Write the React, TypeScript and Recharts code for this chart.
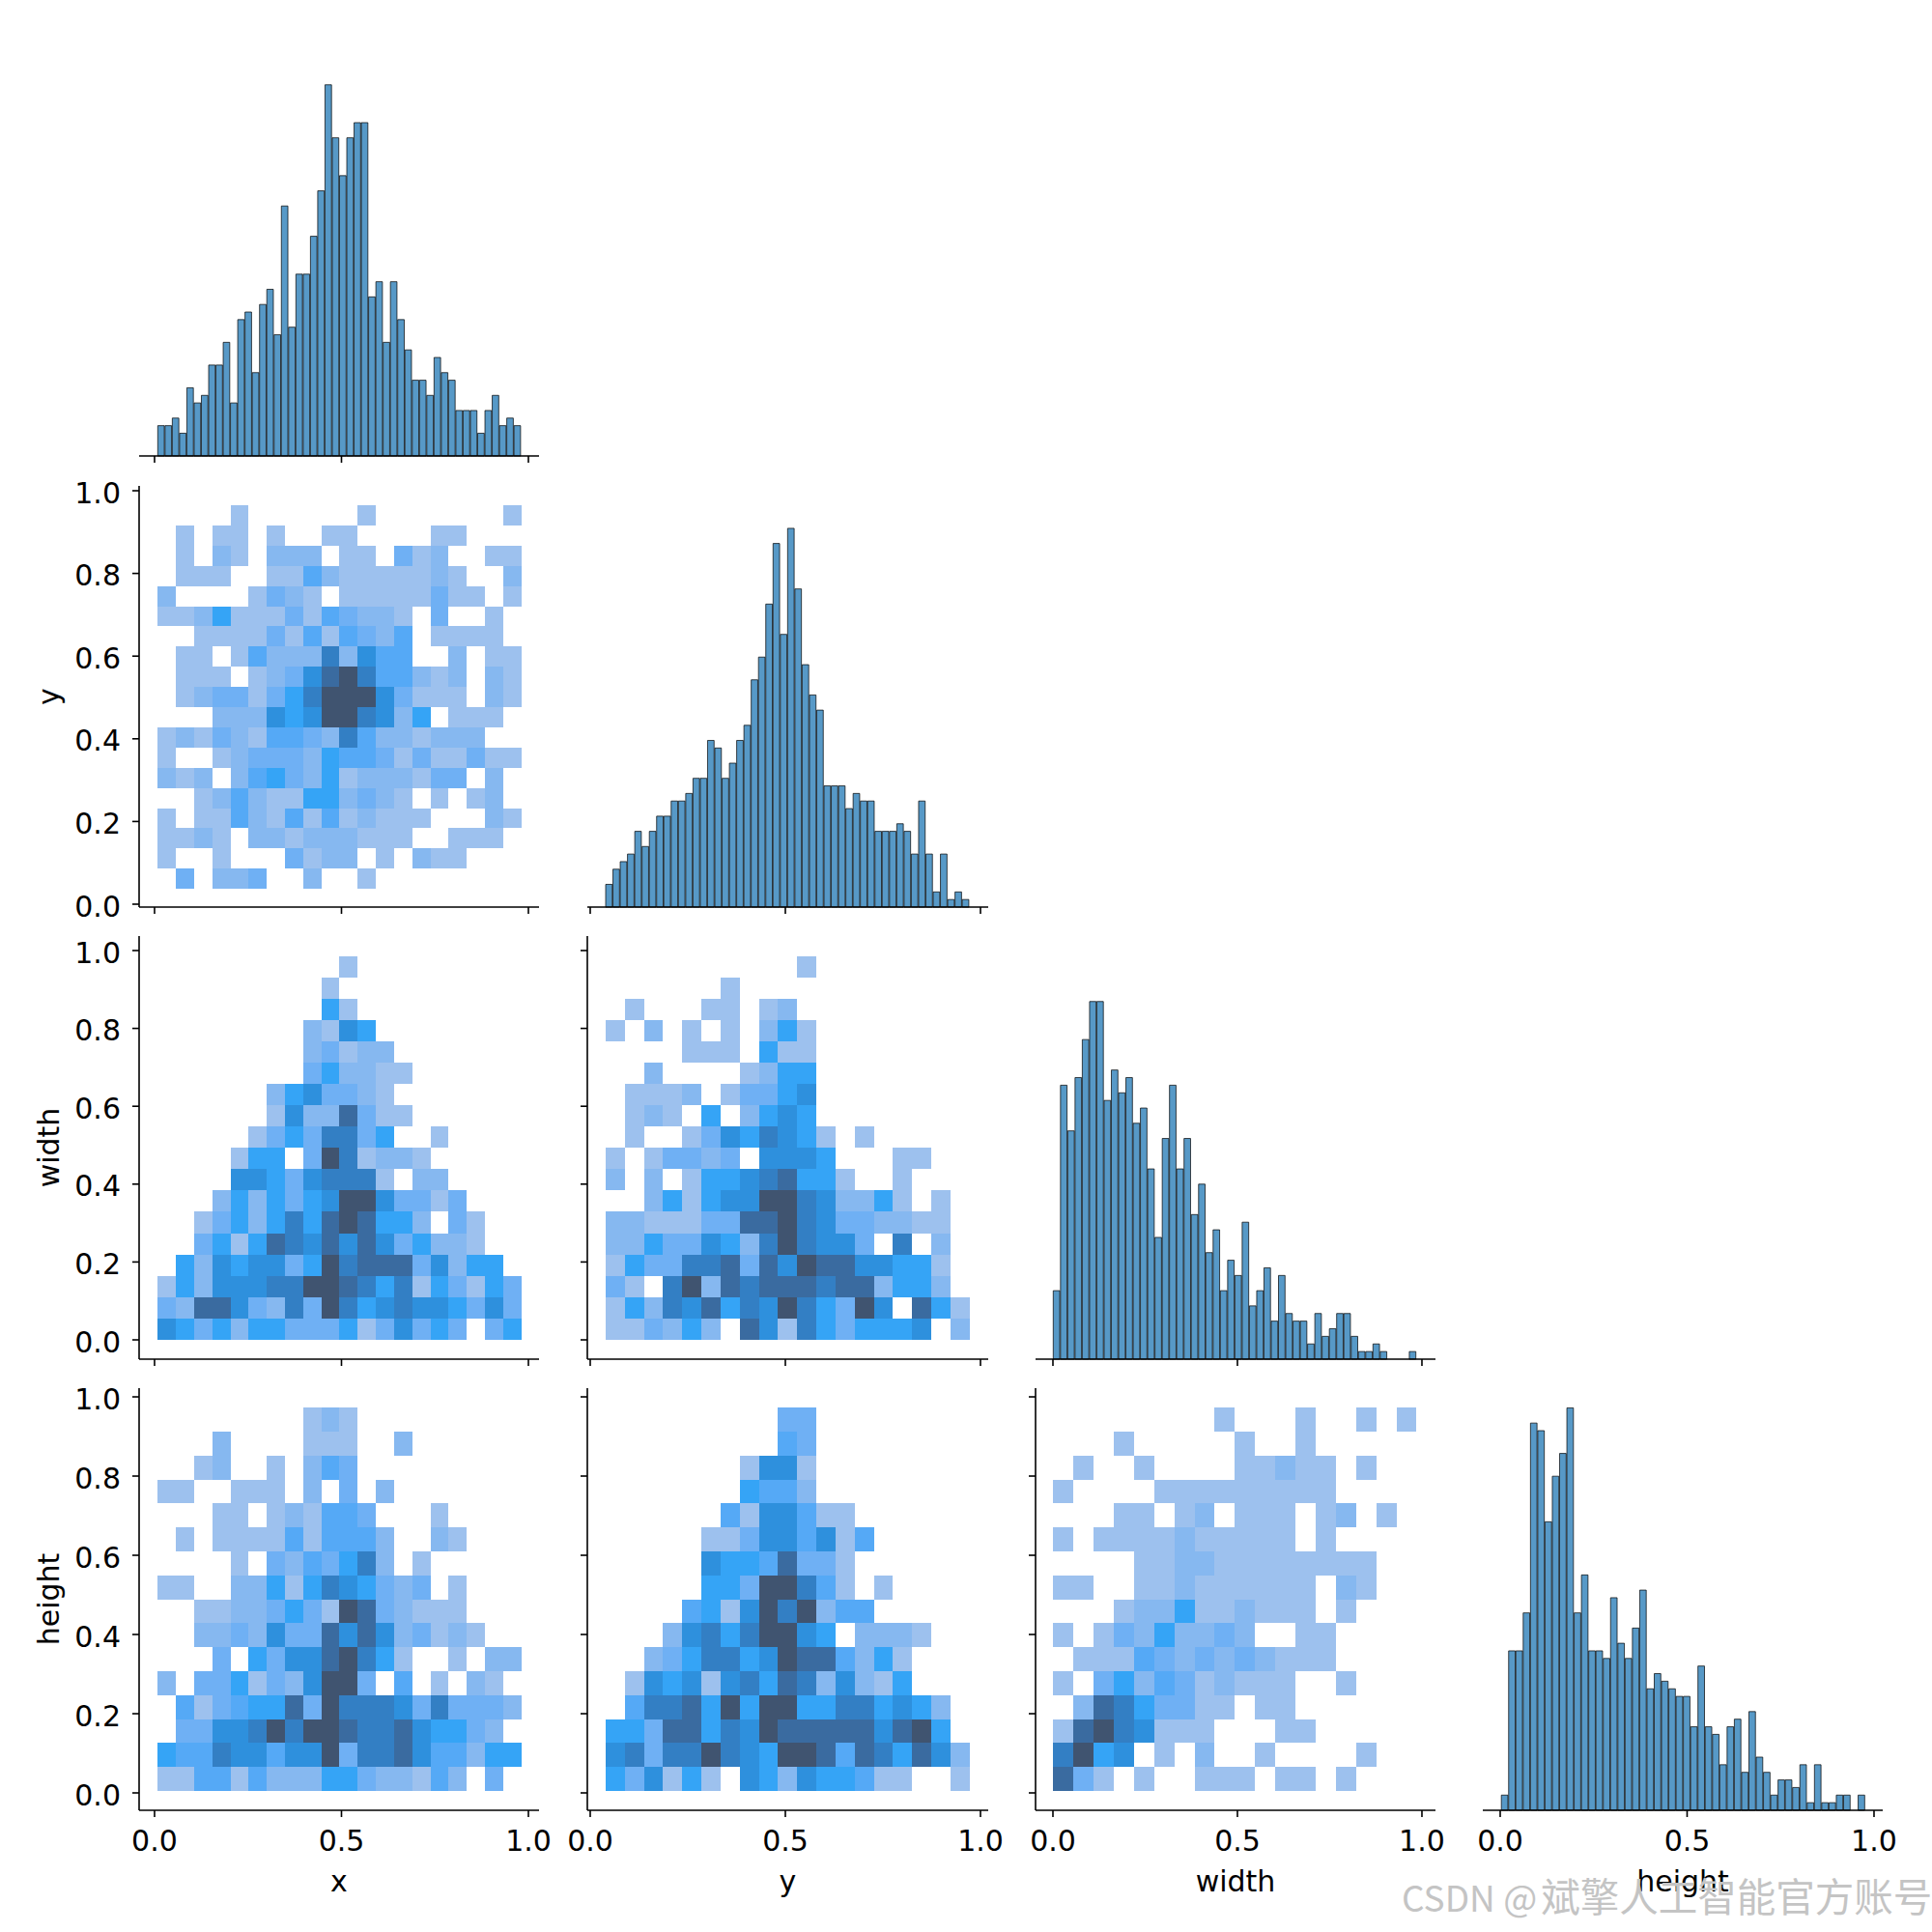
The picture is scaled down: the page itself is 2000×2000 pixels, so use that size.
import { Bar, BarChart, Scatter, ScatterChart, XAxis, YAxis } from "recharts";

// bar counts, 50 bins each
const xCounts = [4,4,5,3,9,7,8,12,12,15,7,18,19,11,20,22,16,33,17,24,24,29,35,49,42,37,42,44,44,21,23,15,23,18,14,10,10,8,13,11,10,6,6,6,3,6,8,4,5,4];
const yCounts = [3,5,6,7,10,8,10,12,12,14,14,15,17,17,22,21,17,19,22,24,30,33,40,48,36,50,42,32,28,26,16,16,16,13,15,14,14,10,10,10,11,10,7,14,7,2,7,1,2,1];
const widthCounts = [9,36,30,37,42,47,47,34,38,35,37,31,33,25,16,29,36,25,29,19,23,14,17,9,13,11,18,7,9,12,5,11,6,5,5,2,6,3,4,6,6,3,1,1,2,1,0,0,0,1];
const heightCounts = [2,21,21,26,51,50,38,44,47,53,26,31,21,21,20,28,22,20,24,29,16,18,17,16,15,15,11,19,11,10,6,11,12,5,13,7,5,2,4,4,3,6,1,6,1,1,2,2,0,2];

// 2d cells, one digit per bin, rows from top to bottom
const xyGrid = [
  "00001000000100000001","01011010011000011000","01021022201103120011","01110011421111121002",
  "20000132101111131101","11251113143221030010","00111131414324011110","01101422272644002011",
  "01110123689744212021","01233135799963111021","00022265699762501110","12132144327422122200",
  "10012333254431311311","21202453251222133020","00124211552321010120","10114214141211100021",
  "11210221222111001110","10010003122010211000","03022300200100000000",
];
const xWidthGrid = [
  "00000000001000000000","00000000010000000000","00000000051000000000","00000000216500000000",
  "00000000231220000000","00000000352211000000","00000025633210000000","00000016228311000000",
  "00000135377350010000","00001550397122100000","00006653677710220000","00025253569963313000",
  "00135257589855203100","00351587686863522100","05265663597888362550","15266677998757153153",
  "32886327397567665363","65352553335136353035",
];
const xHeightGrid = [
  "00000000121000000000","00020000111002000000","00120010243000000000","11001110203020000000",
  "00011012144300010000","01011114144420021000","00001032435720100000","11002251576532301000",
  "00112235319832111000","00223263386862312100","00030536689751001022","20335132699304010210",
  "04134558397776373332","03366797998778655320","54476646693778644255","11441422255322142030",
];
const yWidthGrid = [
  "0000000000100000000","0000001000000000000","0100011012000000000","1020101025100000000",
  "0000111051100000000","0020000125500000000","0111201335600000000","0121050256500000000",
  "0100136576510100000","1013323066650001100","2020155678551001000","0025156699762251010",
  "2211133889763322110","2253365279766307020","1533778386988665510","3107928788878825520",
  "1527685769753960851","1132520861753555602",
];
const yHeightGrid = [
  "0000000003300000000","0000000004300000000","0000000166100000000","0000000544200000000",
  "0000004166411000000","0000011366461400000","0000065548331000000","0000055399741010000",
  "0000451697924400000","0002675799650222100","0023577569884251000","0165616758726215000",
  "0477859599557756520","5538857698888868950","6737797659984875862","5361510652655411001",
];
const widthHeightGrid = [
  "000000001000100101","000100000100100000","010010000112110100","100001111111110000",
  "000110120111012010","101111211111010000","000011221111111100","110011211111102100",
  "000122511211101000","101325223200110000","011143232321110000","103524312111001000",
  "028753311011000000","189761110001100000","795601020010000100","831010011101101000",
];

const names = ["x", "y", "width", "height"];
const xTicks = [0, 0.5, 1];
const yTicks = [0, 0.2, 0.4, 0.6, 0.8, 1];

// axis limits and the span covered by the bins, per variable
const xLimits = [[-0.0413, 1.0284], [-0.0074, 1.0198], [-0.0471, 1.0367], [-0.0465, 1.0233]];
const yLimits = [[0, 1], [-0.007, 1.0117], [-0.0496, 1.0372], [-0.0439, 1.022]];
const xBinSpans = [[0.0086, 0.981], [0.0396, 0.972], [0.0008, 0.9855], [0.0031, 0.977]];
const yBinSpans = [[0, 1], [0.037, 0.965], [0.0007, 0.985], [0.005, 0.973]];
const histMax = 55.6;

// page layout
const colLeft = [144, 608, 1072, 1535];
const colRight = [558, 1023, 1486, 1949];
const rowTop = [36, 503, 969, 1437];
const rowBottom = [472, 939, 1407, 1874];
const Y_AXIS_W = 130;
const X_AXIS_H = 100;
const PAD_TOP = 20;
const PAD_RIGHT = 30;
const Y_LABEL_X = 50;

const palette = ["", "#9DC1EE", "#86B8F0", "#6FB0F4", "#55A9F6", "#35A4F6", "#2E90DD", "#337FC4", "#3A6BA0", "#405470"];

const font = "DejaVu Sans";
const FONT_SIZE = 30;

function frame(row: number, col: number) {
  return {
    position: "absolute" as const,
    left: colLeft[col] - Y_AXIS_W,
    top: rowTop[row] - PAD_TOP,
    fontFamily: font,
  };
}

function xAxisProps(row: number, col: number) {
  const last = row === 3;
  return {
    dataKey: "x",
    type: "number" as const,
    domain: xLimits[col],
    allowDataOverflow: true,
    ticks: xTicks,
    interval: 0 as const,
    height: X_AXIS_H,
    tickSize: 7,
    tickMargin: 14,
    axisLine: { stroke: "#000", strokeWidth: 1.6 },
    tickLine: { stroke: "#000", strokeWidth: 1.6 },
    tick: { fontSize: FONT_SIZE, fill: "#000", fontFamily: font },
    tickFormatter: (v: number) => (last ? v.toFixed(1) : ""),
    label: last
      ? { value: names[col], position: "insideBottom" as const, offset: 16, fontSize: FONT_SIZE, fill: "#000", fontFamily: font }
      : undefined,
  };
}

function HistPanel({ index, counts }: { index: number; counts: number[] }) {
  const [start, end] = xBinSpans[index];
  const binW = (end - start) / counts.length;
  const data = counts.map((c, i) => ({ x: start + (i + 0.5) * binW, count: c }));
  const plotW = colRight[index] - colLeft[index];
  const plotH = rowBottom[index] - rowTop[index];
  const barPx = (binW * plotW) / (xLimits[index][1] - xLimits[index][0]);
  return (
    <div style={frame(index, index)}>
      <BarChart
        width={Y_AXIS_W + plotW + PAD_RIGHT}
        height={PAD_TOP + plotH + X_AXIS_H}
        data={data}
        margin={{ top: PAD_TOP, right: PAD_RIGHT, bottom: 0, left: Y_AXIS_W }}
      >
        <XAxis {...xAxisProps(index, index)} />
        <YAxis hide type="number" domain={[0, histMax]} />
        <Bar
          dataKey="count"
          barSize={barPx}
          fill="#1f77b4"
          fillOpacity={0.75}
          stroke="#000"
          strokeOpacity={0.7}
          strokeWidth={1}
          isAnimationActive={false}
        />
      </BarChart>
    </div>
  );
}

function HeatPanel({ row, col, grid }: { row: number; col: number; grid: string[] }) {
  const [xs, xe] = xBinSpans[col];
  const [ys, ye] = yBinSpans[row];
  const nx = grid[0].length;
  const ny = grid.length;
  const binW = (xe - xs) / nx;
  const binH = (ye - ys) / ny;
  const data: { x: number; y: number; count: number }[] = [];
  grid.forEach((line, r) => {
    Array.from(line, Number).forEach((count, c) => {
      if (count > 0) data.push({ x: xs + (c + 0.5) * binW, y: ye - (r + 0.5) * binH, count });
    });
  });
  const plotW = colRight[col] - colLeft[col];
  const plotH = rowBottom[row] - rowTop[row];
  const cellW = (binW * plotW) / (xLimits[col][1] - xLimits[col][0]);
  const cellH = (binH * plotH) / (yLimits[row][1] - yLimits[row][0]);
  const showLabels = col === 0;
  const cellShape = (p: any) => (
    <rect
      x={p.cx - cellW / 2}
      y={p.cy - cellH / 2}
      width={cellW}
      height={cellH}
      fill={palette[p.payload.count]}
      shapeRendering="crispEdges"
    />
  );
  const yLabel = (p: any) => {
    const cx = Y_LABEL_X - (colLeft[col] - Y_AXIS_W);
    const cy = p.viewBox.y + p.viewBox.height / 2;
    return (
      <text
        x={cx}
        y={cy}
        transform={`rotate(-90 ${cx} ${cy})`}
        textAnchor="middle"
        dominantBaseline="central"
        fontSize={FONT_SIZE}
        fontFamily={font}
        fill="#000"
      >
        {names[row]}
      </text>
    );
  };
  return (
    <div style={frame(row, col)}>
      <ScatterChart
        width={Y_AXIS_W + plotW + PAD_RIGHT}
        height={PAD_TOP + plotH + X_AXIS_H}
        margin={{ top: PAD_TOP, right: PAD_RIGHT, bottom: 0, left: 0 }}
      >
        <XAxis {...xAxisProps(row, col)} />
        <YAxis
          dataKey="y"
          type="number"
          domain={yLimits[row]}
          allowDataOverflow
          ticks={yTicks}
          interval={0}
          width={Y_AXIS_W}
          tickSize={7}
          tickMargin={12}
          axisLine={{ stroke: "#000", strokeWidth: 1.6 }}
          tickLine={{ stroke: "#000", strokeWidth: 1.6 }}
          tick={{ fontSize: FONT_SIZE, fill: "#000", fontFamily: font, dy: 2 }}
          tickFormatter={(v: number) => (showLabels ? v.toFixed(1) : "")}
          label={showLabels ? { content: yLabel } : undefined}
        />
        <Scatter data={data} shape={cellShape} isAnimationActive={false} />
      </ScatterChart>
    </div>
  );
}

export default function App() {
  return (
    <div style={{ position: "absolute", left: 0, top: 0, width: 2000, height: 2000, background: "#fff" }}>
      <HistPanel index={0} counts={xCounts} />
      <HeatPanel row={1} col={0} grid={xyGrid} />
      <HistPanel index={1} counts={yCounts} />
      <HeatPanel row={2} col={0} grid={xWidthGrid} />
      <HeatPanel row={2} col={1} grid={yWidthGrid} />
      <HistPanel index={2} counts={widthCounts} />
      <HeatPanel row={3} col={0} grid={xHeightGrid} />
      <HeatPanel row={3} col={1} grid={yHeightGrid} />
      <HeatPanel row={3} col={2} grid={widthHeightGrid} />
      <HistPanel index={3} counts={heightCounts} />
      <div
        style={{
          position: "absolute",
          left: 1451,
          top: 1937,
          fontFamily: '"Noto Sans CJK SC", "Noto Sans"',
          fontSize: 37,
          lineHeight: "50px",
          color: "#c4c4c4",
          whiteSpace: "nowrap",
        }}
      >
        CSDN @<span style={{ fontSize: 40.5, marginLeft: 4 }}>斌擎人工智能官方账号</span>
      </div>
    </div>
  );
}
